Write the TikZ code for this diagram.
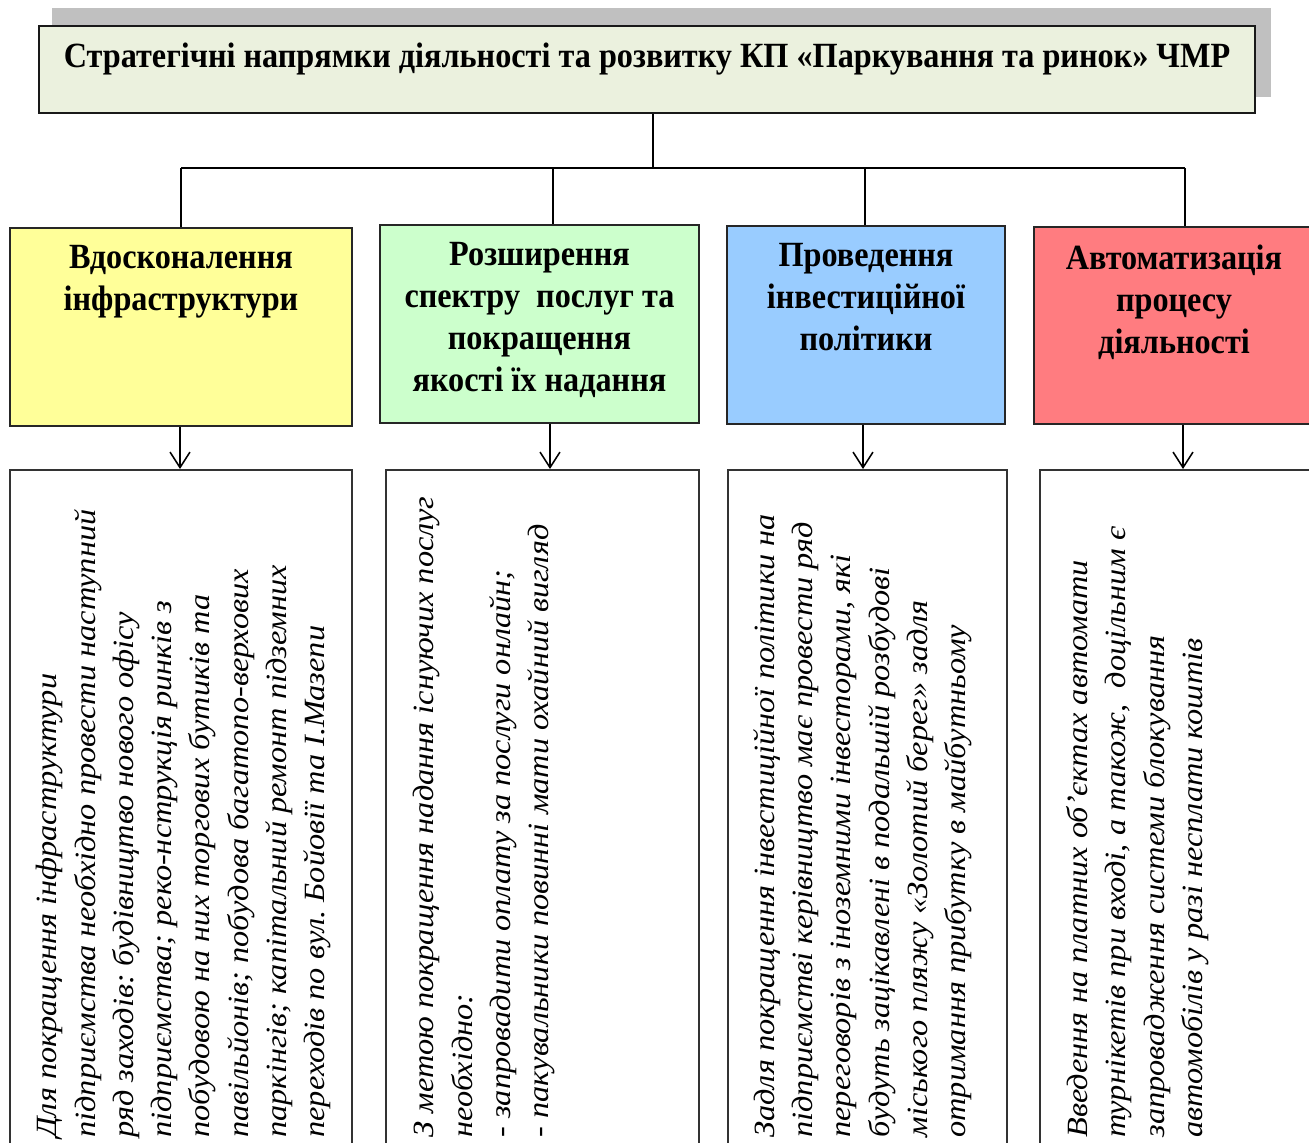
\documentclass[tikz,border=0pt]{standalone}
\usepackage{fontspec}
\setmainfont{Liberation Serif}
\newfontfamily\condserif[FakeStretch=0.91]{Liberation Serif}
\usetikzlibrary{arrows.meta}
\newlength\pxu
\setlength\pxu{0.4517pt}
\definecolor{titlefill}{HTML}{EBF1DE}
\definecolor{hyellow}{HTML}{FFFF99}
\definecolor{hgreen}{HTML}{CCFFCC}
\definecolor{hblue}{HTML}{99CCFF}
\definecolor{hred}{HTML}{FF7C80}
\definecolor{shadowgrey}{HTML}{C0C0C0}
\tikzset{
  conn/.style={line width=0.7pt, black},
  arr/.style={conn, -{Straight Barb[length=7pt,width=9pt,line width=0.7pt]}},
  titlebox/.style={draw=black!90, line width=1pt, fill=titlefill, anchor=north west,
    inner sep=0pt, minimum width=1216\pxu, text height=41\pxu, text depth=46\pxu,
    font=\condserif\bfseries\fontsize{16}{19}\selectfont},
  hbox/.style={draw=black!85, line width=0.9pt, anchor=north west, inner sep=0pt},
  headtext/.style={font=\condserif\bfseries\fontsize{16}{19}\selectfont, align=center, anchor=north, inner sep=0pt},
  tbox/.style={draw=black!80, line width=0.7pt, anchor=north west, inner sep=0pt},
  bodytext/.style={font=\itshape\fontsize{14.6}{19}\selectfont, align=left, rotate=90,
    yscale=0.91, transform shape, anchor=north west, inner sep=0pt},
}
\begin{document}
\frenchspacing
\begin{tikzpicture}[x=\pxu, y=-\pxu]
\useasboundingbox (0,0) rectangle (1309,1142);
\clip (0,0) rectangle (1309,1142);
% shadow of the title
\fill[shadowgrey] (52,8) rectangle (1271,97);
\node[titlebox] (title) at (38,25) {Стратегічні напрямки діяльності та розвитку КП «Паркування та ринок» ЧМР};

% heading boxes
\node[hbox, fill=hyellow, minimum width=342\pxu, minimum height=198\pxu] (hY) at (9,227) {};
\node[hbox, fill=hgreen, minimum width=319\pxu, minimum height=198\pxu] (hG) at (379,224) {};
\node[hbox, fill=hblue, minimum width=278\pxu, minimum height=198\pxu] (hB) at (726,225) {};
\node[hbox, fill=hred, minimum width=280\pxu, minimum height=197\pxu] (hR) at (1033,226) {};

\node[headtext] (hYt) at ([yshift=-18\pxu]hY.north) {Вдосконалення\\інфраструктури};
\node[headtext] (hGt) at ([yshift=-18\pxu]hG.north) {Розширення\\спектру\ \ послуг та\\покращення\\якості їх надання};
\node[headtext] (hBt) at ([yshift=-18\pxu]hB.north) {Проведення\\інвестиційної\\політики};
\node[headtext] (hRt) at ([yshift=-18\pxu]hR.north) {Автоматизація\\процесу\\діяльності};

% text boxes
\node[tbox, minimum width=342\pxu, minimum height=760\pxu] (tY) at (9,469) {};
\node[tbox, minimum width=313\pxu, minimum height=760\pxu] (tG) at (385,469) {};
\node[tbox, minimum width=279\pxu, minimum height=760\pxu] (tB) at (727,469) {};
\node[tbox, minimum width=290\pxu, minimum height=760\pxu] (tR) at (1039,469) {};

\begin{scope}[shift={(36,1138)}]
\node[bodytext] (bY) at (0,0) {Для покращення інфраструктури\\
підприємства необхідно провести наступний\\
ряд заходів: будівництво нового офісу\\
підприємства; реко-нструкція ринків з\\
побудовою на них торгових бутиків та\\
павільйонів; побудова багатопо-верхових\\
паркінгів; капітальний ремонт підземних\\
переходів по вул. Бойовії та І.Мазепи};
\end{scope}
\begin{scope}[shift={(413,1138)}]
\node[bodytext] (bG) at (0,0) {З метою покращення надання існуючих послуг\\
необхідно:\\
- запровадити оплату за послуги онлайн;\\
- пакувальники повинні мати охайний вигляд};
\end{scope}
\begin{scope}[shift={(753,1138)}]
\node[bodytext] (bB) at (0,0) {Задля покращення інвестиційної політики на\\
підприємстві керівництво має провести ряд\\
переговорів з іноземними інвесторами, які\\
будуть зацікавлені в подальшій розбудові\\
міського пляжу «Золотий берег» задля\\
отримання прибутку в майбутньому};
\end{scope}
\begin{scope}[shift={(1066,1138)}]
\node[bodytext] (bR) at (0,0) {Введення на платних об’єктах автомати\\
турнікетів при вході, а також,\ \ доцільним є\\
запровадження системи блокування\\
автомобілів у разі несплати коштів};
\end{scope}

% tree connectors
\coordinate (j0) at (653,168);
\coordinate (j1) at (181,168);
\coordinate (j2) at (553,168);
\coordinate (j3) at (865,168);
\coordinate (j4) at (1185,168);
\draw[conn] (title.south -| j0) -- (j0);
\draw[conn] (j1) -- (j4);
\draw[conn] (j1) -- (j1 |- hY.north);
\draw[conn] (j2) -- (j2 |- hG.north);
\draw[conn] (j3) -- (j3 |- hB.north);
\draw[conn] (j4) -- (j4 |- hR.north);

% arrows to the text boxes
\coordinate (a1) at (180,0);
\coordinate (a2) at (550,0);
\coordinate (a3) at (863,0);
\coordinate (a4) at (1183,0);
\draw[arr] (hY.south -| a1) -- (tY.north -| a1);
\draw[arr] (hG.south -| a2) -- (tG.north -| a2);
\draw[arr] (hB.south -| a3) -- (tB.north -| a3);
\draw[arr] (hR.south -| a4) -- (tR.north -| a4);
\end{tikzpicture}
\end{document}
